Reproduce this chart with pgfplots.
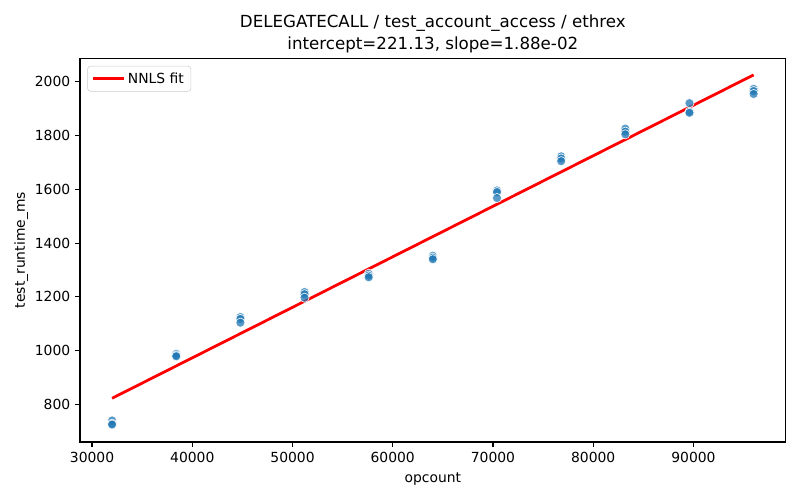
\documentclass[border=0pt]{standalone}
\usepackage{pgfplots}
\pgfplotsset{compat=1.18}
\usepackage{fontspec}
\setmainfont{DejaVu Sans}
\definecolor{mplblue}{HTML}{1F77B4}
\begin{document}
\begin{tikzpicture}[x=1pt,y=1pt]
\useasboundingbox (0,0) rectangle (576,360);
\begin{axis}[
  at={(57.6pt,41.76pt)}, anchor=south west,
  scale only axis, width=508.1pt, height=276.3pt,
  xmin=28800, xmax=99200, ymin=660, ymax=2088,
  xtick={30000,40000,...,90000},
  ytick={800,1000,...,2000},
  scaled ticks=false,
  /pgf/number format/1000 sep={},
  /pgf/number format/assume math mode=true,
  tick label style={font=\fontsize{10}{12}\selectfont},
  label style={font=\fontsize{10}{12}\selectfont},
  tick align=outside, major tick length=3.5pt,
  every tick/.style={line width=0.8pt, black},
  axis line style={line width=0.8pt},
  xtick pos=lower, ytick pos=left,
  xlabel={opcount}, ylabel={test\_runtime\_ms},
  xlabel style={yshift=-1pt},
  ylabel style={yshift=-2pt},
  title style={align=center, font=\fontsize{12}{16}\selectfont, yshift=-6pt},
  title={DELEGATECALL / test\_account\_access / ethrex\\intercept=221.13, slope=1.88e-02},
  legend style={font=\fontsize{10}{12}\selectfont, draw=black!20, rounded corners=2pt, fill=white, fill opacity=0.8, text opacity=1, inner xsep=3pt, inner ysep=2.5pt, at={(0.0105,0.98)}, anchor=north west},
  legend cell align=left,
  legend image code/.code={\draw[#1, line width=2pt] (0pt,0pt) -- (22pt,0pt);},
]
\addplot[only marks, mark=*, mark size=3.3pt, mark options={fill=mplblue, fill opacity=0.75, draw=white, line width=0.5pt, draw opacity=0.9}, forget plot] coordinates {
(32000,740) (32000,728) (32000,725)
(38400,988) (38400,982) (38400,979)
(44800,1125) (44800,1118) (44800,1104)
(51200,1218) (51200,1210) (51200,1197)
(57600,1286) (57600,1279) (57600,1273)
(64000,1353) (64000,1346) (64000,1340)
(70400,1596) (70400,1590) (70400,1568)
(76800,1723) (76800,1715) (76800,1705)
(83200,1826) (83200,1815) (83200,1805)
(89600,1921) (89600,1889) (89600,1885)
(96000,1974) (96000,1966) (96000,1955)
};
\addplot[red, line width=2pt, no marks] coordinates {(32000,822.7) (96000,2026.1)};
\addlegendentry{NNLS fit}
\end{axis}
\end{tikzpicture}
\end{document}
